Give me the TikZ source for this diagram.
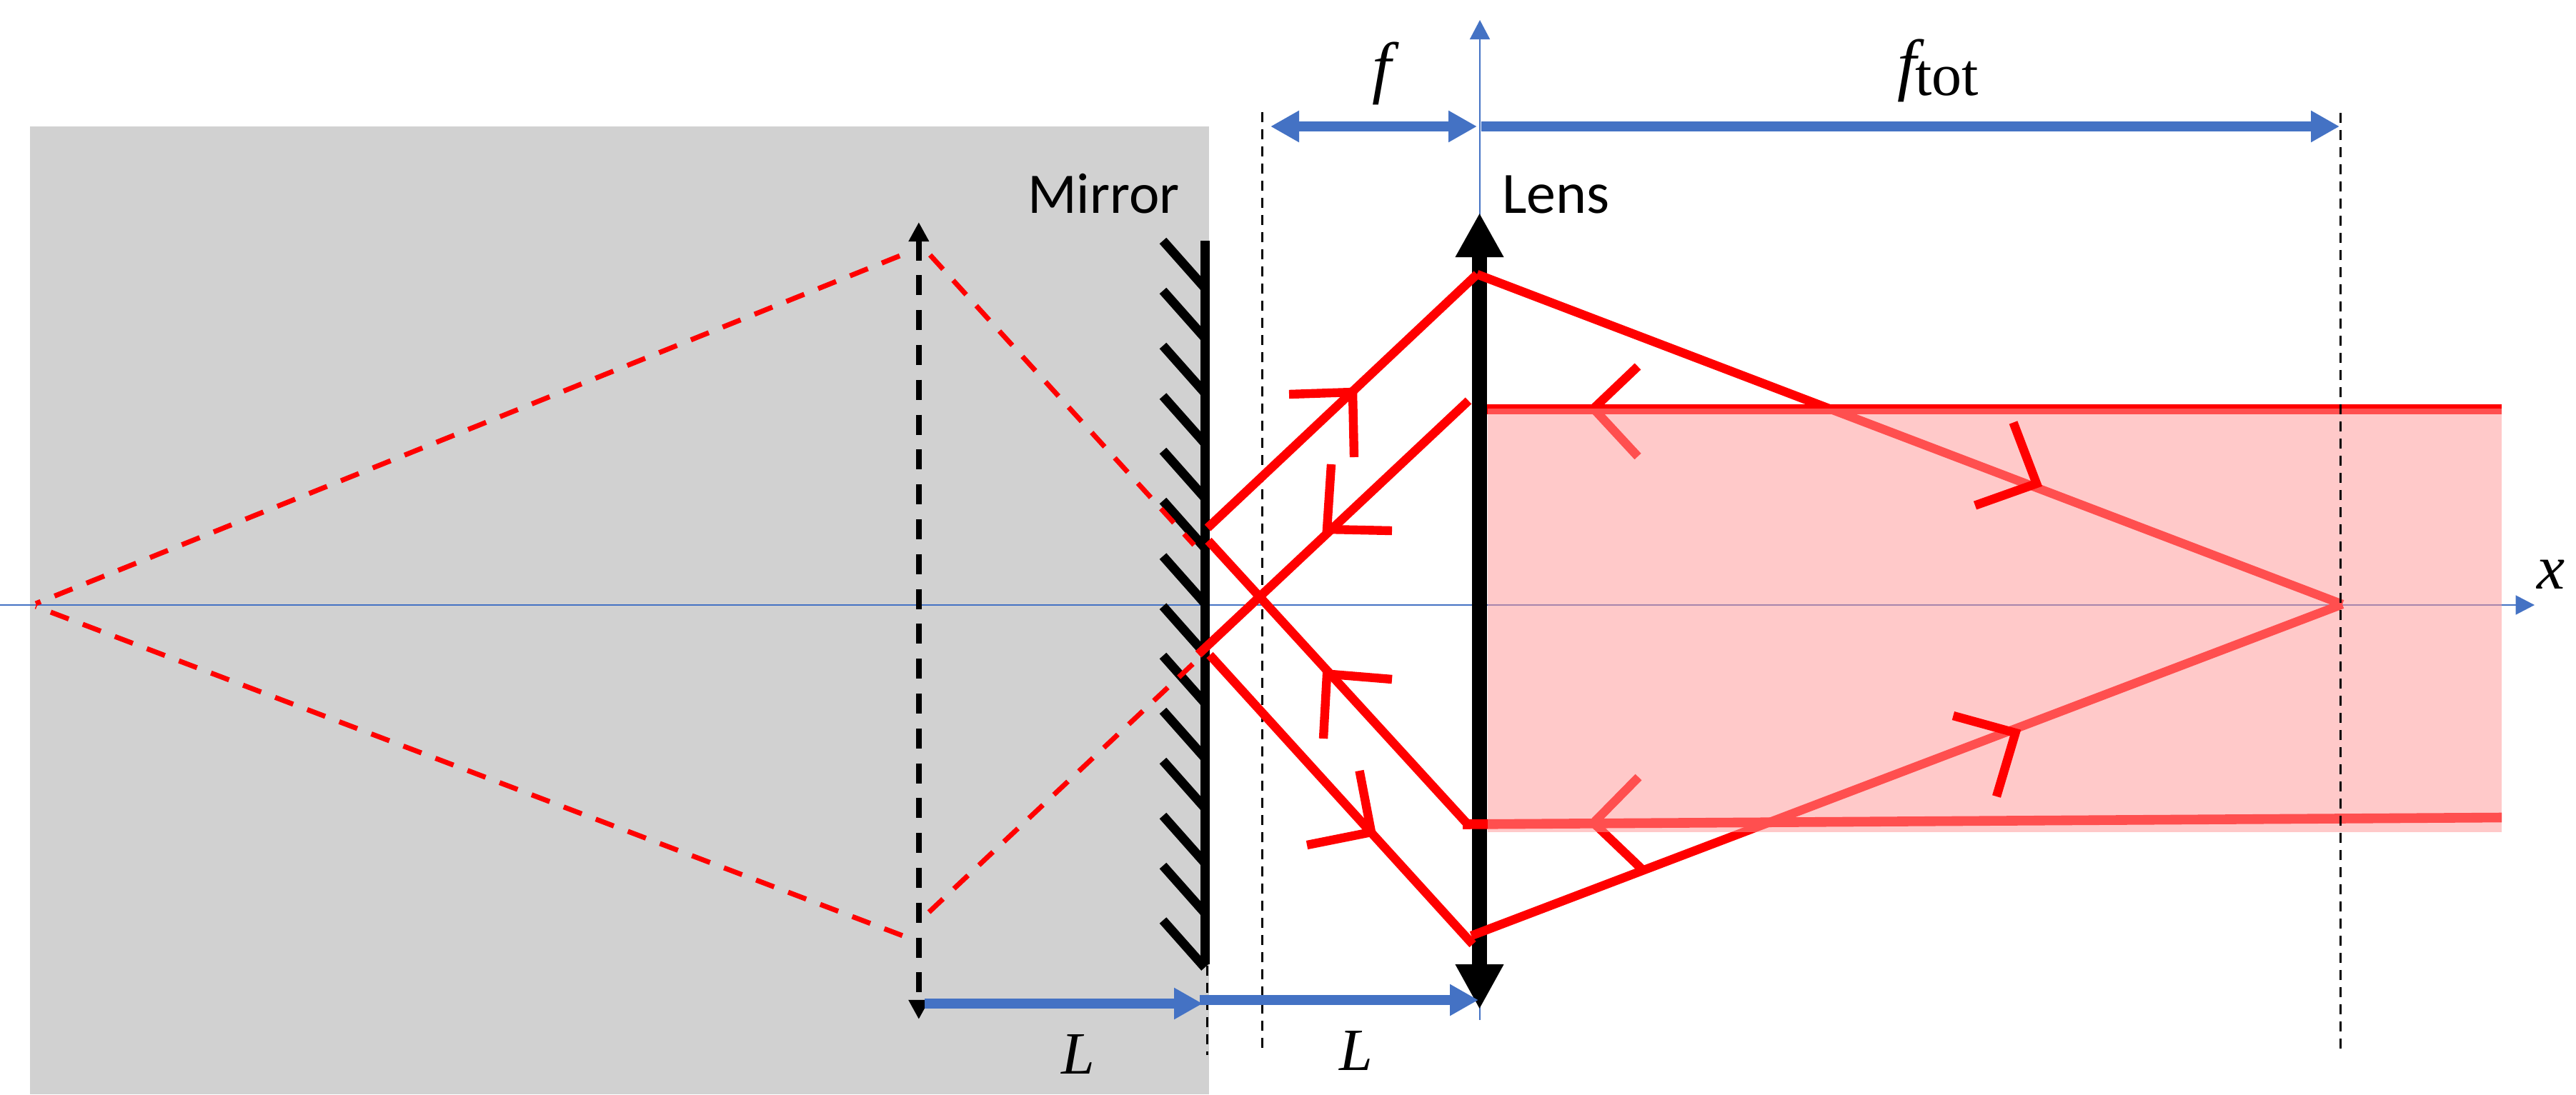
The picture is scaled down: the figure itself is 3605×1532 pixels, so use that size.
\documentclass[tikz,border=0pt]{standalone}
\usepackage{fontspec}
\usetikzlibrary{arrows.meta}
\newfontfamily\labfont{Carlito}
\newfontfamily\serfont{Liberation Serif}
\definecolor{axisblue}{HTML}{4472C4}
\definecolor{panelgrey}{HTML}{D1D1D1}
\definecolor{beampink}{HTML}{FF9898}
\tikzset{
  ray/.style={draw=red,line width=3.1pt},
  chev/.style={draw=red,line width=3.1pt,miter limit=10},
  virt/.style={draw=red,line width=1.75pt,dash pattern=on 6.75pt off 5.25pt},
  guide/.style={draw=black,line width=0.75pt,dash pattern=on 3.5pt off 2.5pt},
  thinaxis/.style={draw=axisblue,line width=0.6pt},
  dimarrow/.style={draw=axisblue,line width=3.5pt},
  bluetip/.tip={Triangle[length=10pt,width=10.4pt]},
  lbl/.style={inner sep=0pt,outer sep=0pt,anchor=base west},
}
\begin{document}
\begin{tikzpicture}[x=0.25pt,y=-0.25pt]
\useasboundingbox (0,0) rectangle (3605,1532);
% named points
\coordinate (focus) at (3278,846);
\coordinate (lensT) at (2067,384);
\coordinate (lensB) at (2059,1310);
\coordinate (mA) at (1690,739);
\coordinate (mB) at (1677,916);
\coordinate (mC) at (1691,757);
\coordinate (mD) at (1693,917);
\coordinate (apexV) at (50,845);
\coordinate (apexW) at (50,849);
\fill[panelgrey] (42,177) rectangle (1692,1532);
% axes
\coordinate (axL) at (0,847); \coordinate (axR) at (3547,847);
\draw[thinaxis,-{Triangle[length=6.6pt,width=6.7pt]}] (axL) -- (axR);
\coordinate (ayB) at (2071,1428); \coordinate (ayT) at (2071,28);
\draw[thinaxis,-{Triangle[length=6.8pt,width=7pt]}] (ayB) -- (ayT);
% mirror
\foreach \yy in {337,407,484,554.5,631,701,778.6,848.7,918,995,1065,1142,1212,1288.5}
  \draw[black,line width=3.2pt] (1627.5,\yy) -- (1686,\yy+66);
\coordinate (mirT) at (1686.5,337); \coordinate (mirB) at (1686.5,1350);
\draw[black,line width=3.25pt] (mirT) -- (mirB);
% object image arrow
\coordinate (imT) at (1285.8,311); \coordinate (imB) at (1285.8,1427);
\draw[black,line width=2pt,dash pattern=on 7pt off 5.2pt,
  {Triangle[length=6.8pt,width=6.8pt]}-{Triangle[length=6.8pt,width=6.8pt]}] (imT) -- (imB);
% virtual rays
\coordinate (vT) at (1262,357); \coordinate (vB) at (1266,1311);
\coordinate (wT) at (1301.6,357); \coordinate (wB) at (1300,1277);
\coordinate (wTe) at (1671,763); \coordinate (wBe) at (1671,928);
\draw[virt,dash phase=4.9pt] (apexV) -- (vT);
\draw[virt,dash phase=6.4pt] (apexW) -- (vB);
\draw[virt] (wT) -- (wTe);
\draw[virt] (wB) -- (wBe);
% guides under the rays
\coordinate (gA) at (1766,157); \coordinate (gB) at (1766,1470);
\draw[guide] (gA) -- (gB);
\coordinate (gC) at (1689.5,1352); \coordinate (gD) at (1689.5,1477);
\draw[guide] (gC) -- (gD);
% top beam edge
\coordinate (topL) at (2071,573); \coordinate (topR) at (3501,573);
\draw[draw=red,line width=3.4pt] (topL) -- (topR);
% lens
\coordinate (lenT) at (2070.5,298); \coordinate (lenB) at (2070.5,1413);
\draw[black,line width=5.25pt,{Triangle[length=15.5pt,width=15.8pt]}-{Triangle[length=15.75pt,width=15.8pt]}] (lenT) -- (lenB);
% rays
\coordinate (rB) at (2055,561);
\coordinate (rC) at (2054,1154);
\coordinate (rD) at (2061,1322);
\draw[ray] (mA) -- (lensT);
\draw[ray] (mB) -- (rB);
\draw[ray] (mC) -- (rC);
\draw[ray] (mD) -- (rD);
\draw[ray] (lensT) -- (focus);
\draw[ray] (lensB) -- (focus);
\coordinate (botL) at (2047,1154); \coordinate (botR) at (3501,1144.5);
\draw[draw=red,line width=3.4pt] (botL) -- (botR);
% chevrons
\draw[chev] (1804,552) -- (1893,549) -- (1895,640);
\draw[chev] (1863,650) -- (1857,741) -- (1948,743);
\draw[chev] (1852,1034) -- (1857,943.5) -- (1948,951);
\draw[chev] (1902.5,1079) -- (1919,1165) -- (1829,1183);
\draw[chev] (2292,513) -- (2230,572) -- (2292,639);
\draw[chev] (2293,1088) -- (2230,1152) -- (2298,1217);
% beam
\fill[beampink,fill opacity=0.525] (2082,571.5) rectangle (3501,1165);
% on top
\coordinate (gE) at (3275,158); \coordinate (gF) at (3275,1470);
\draw[guide] (gE) -- (gF);
\draw[chev] (2817.5,591.5) -- (2850,677) -- (2764,707.6);
\draw[chev] (2733.4,1002) -- (2820.5,1026) -- (2794,1115);
% dimension arrows
\coordinate (fL) at (1778,177); \coordinate (fR) at (2067,177);
\draw[dimarrow,bluetip-bluetip] (fL) -- (fR);
\coordinate (tL) at (2073,177); \coordinate (tR) at (3274,177);
\draw[dimarrow,-bluetip] (tL) -- (tR);
\coordinate (l1L) at (1294,1405); \coordinate (l1R) at (1683,1405);
\draw[dimarrow,-bluetip] (l1L) -- (l1R);
\coordinate (l2L) at (1679,1400); \coordinate (l2R) at (2069,1400);
\draw[dimarrow,-bluetip] (l2L) -- (l2R);
% labels
\node[lbl] (mirror) at (1438,298) {\fontsize{20.1pt}{22pt}\labfont Mirror};
\node[lbl] (lens) at (2102,298) {\fontsize{20.5pt}{22pt}\labfont Lens};
\node[lbl] (labf) at (1920,126) {\fontsize{24pt}{26pt}\serfont\itshape f};
\node[lbl] (labftot) at (2655,122) {\fontsize{24pt}{26pt}\serfont\itshape f};
\node[lbl] (labtot) at (2680,133) {\fontsize{21pt}{24pt}\serfont tot};
\node[lbl] (labL1) at (1485,1503) {\fontsize{21pt}{24pt}\serfont\itshape L};
\node[lbl] (labL2) at (1874,1498) {\fontsize{21pt}{24pt}\serfont\itshape L};
\node[lbl] (labx) at (3550,824) {\fontsize{22pt}{24pt}\serfont\itshape x};
\end{tikzpicture}
\end{document}
